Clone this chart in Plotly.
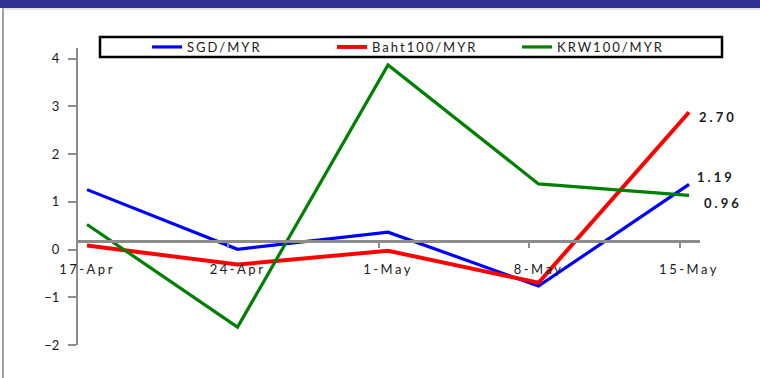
import plotly.graph_objects as go

# Weekly change in ringgit cross rates (%)
dates = ["17-Apr", "24-Apr", "1-May", "8-May", "15-May"]
sgd_myr = [1.08, -0.17, 0.19, -0.94, 1.19]
baht100_myr = [-0.09, -0.49, -0.20, -0.87, 2.70]
krw100_myr = [0.35, -1.80, 3.69, 1.20, 0.96]

series = [
    ("SGD/MYR", sgd_myr, "#0000FF", 3.2),
    ("Baht100/MYR", baht100_myr, "#FF0000", 4),
    ("KRW100/MYR", krw100_myr, "#008000", 3.2),
]
# offsets of the end-of-line value labels (px)
label_shift = {"SGD/MYR": (12, 7), "Baht100/MYR": (14, -5), "KRW100/MYR": (19, -8)}

idx = list(range(len(dates)))
AXIS_GREY = "#8c8c8c"
FONT = "Lato"

fig = go.Figure()
for name, vals, color, width in series:
    fig.add_trace(go.Scatter(
        x=idx, y=vals, name=name, mode="lines",
        line=dict(color=color, width=width),
        hoverinfo="skip",
    ))
    dx, dy = label_shift[name]
    fig.add_annotation(
        x=idx[-1], y=vals[-1], xref="x", yref="y",
        text=f"{vals[-1]:.2f}", showarrow=False,
        xanchor="left", yanchor="middle", xshift=dx, yshift=dy,
        font=dict(family=FONT, size=13, color="#1a1a1a", weight="bold"),
    )

# value labels axis on the left
fig.add_trace(go.Scatter(x=[None], y=[None], yaxis="y2", showlegend=False, hoverinfo="skip"))

data_lo, data_hi = -2.174, 4.046
zero_pos = (0 - data_lo) / (data_hi - data_lo)

fig.update_layout(
    width=760, height=378,
    margin=dict(l=78, r=60, t=48, b=33),
    paper_bgcolor="white", plot_bgcolor="white",
    font=dict(family=FONT, size=13, color="#1a1a1a"),
    showlegend=True,
    legend=dict(
        orientation="h", x=0.111, y=1.0034, xanchor="left", yanchor="middle",
        entrywidth=140, font=dict(family=FONT, size=13, color="#1a1a1a"),
        bgcolor="rgba(0,0,0,0)", borderwidth=0,
    ),
    xaxis=dict(
        range=[-0.06, 4.073], anchor="free", position=zero_pos,
        showline=True, linecolor=AXIS_GREY, linewidth=2.5,
        tickmode="array", tickvals=idx, ticktext=dates, ticks="",
        showgrid=False, zeroline=False, ticklabelstandoff=15,
        tickfont=dict(family=FONT, size=13, color="#1a1a1a"),
        minor=dict(tickmode="array", tickvals=[i - 0.063 for i in idx],
                   ticks="outside", ticklen=5, tickwidth=2,
                   tickcolor=AXIS_GREY, showgrid=False),
    ),
    yaxis=dict(range=[data_lo, data_hi], visible=False, showgrid=False, zeroline=False),
    yaxis2=dict(
        overlaying="y", side="left", anchor="x", range=[-2, 4.22],
        tickmode="array", tickvals=[-2, -1, 0, 1, 2, 3, 4],
        showline=True, linecolor=AXIS_GREY, linewidth=2,
        ticks="outside", ticklen=8, tickwidth=2, tickcolor=AXIS_GREY,
        showgrid=False, zeroline=False, ticklabelstandoff=6,
        tickfont=dict(family=FONT, size=13, color="#1a1a1a"),
    ),
)

ph = 378 - 48 - 33
pw = 760 - 78 - 60
def px_x(p):
    return (p - 78) / pw
def px_y(p):
    return (378 - 33 - p) / ph

# header band
fig.add_shape(type="rect", xref="paper", yref="paper",
              x0=px_x(0), x1=px_x(760), y0=px_y(8), y1=px_y(0),
              fillcolor="#2E3192", line=dict(width=0), layer="below")
# frame lines
fig.add_shape(type="line", xref="paper", yref="paper",
              x0=px_x(3), x1=px_x(3), y0=px_y(8), y1=px_y(378),
              line=dict(color="#444444", width=1))
fig.add_shape(type="line", xref="paper", yref="paper",
              x0=px_x(3), x1=px_x(760), y0=px_y(9), y1=px_y(9),
              line=dict(color="#c8c8c8", width=1))
# legend box
fig.add_shape(type="rect", xref="paper", yref="paper",
              x0=px_x(100), x1=px_x(722), y0=px_y(57), y1=px_y(37),
              line=dict(color="black", width=2.5), fillcolor="rgba(0,0,0,0)")

post = """
var gd = document.getElementById('{plot_id}');
function track(sel, v) {
  gd.querySelectorAll(sel).forEach(function (t) { t.style.letterSpacing = v; });
}
track('.xtick text', '2.5px');
track('.legendtext', '2px');
track('.annotation-text', '3px');
"""

fig.write_html("out.html", post_script=post, config={"displayModeBar": False})
